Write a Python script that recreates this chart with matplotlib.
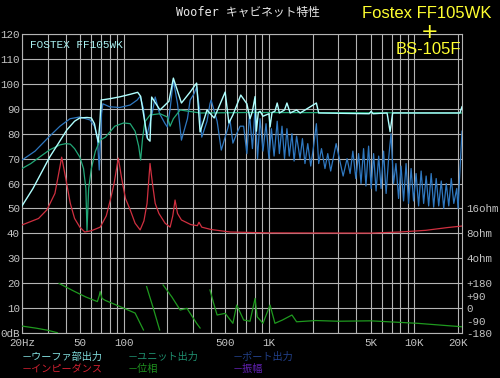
import matplotlib
matplotlib.use("Agg")
import matplotlib.pyplot as plt
from matplotlib.ticker import FixedLocator, LogLocator, NullFormatter
import numpy as np

# ---------------- data ----------------
freq_woofer = [20, 23.8, 27, 31, 35.5, 40.7, 46, 50, 56, 60, 63, 65.5, 67, 68.8, 70, 80, 94.5, 111, 125, 131,
               137, 146, 152, 156, 178, 205, 220, 250, 287, 318, 336, 375, 420, 500, 530, 565, 640, 705, 741, 770,
               803, 820, 845, 869, 910, 1000, 1018, 1050, 1100, 1140, 1180, 1280, 1330, 1400, 1550, 1640, 2120, 2200, 4900, 5050,
               5200, 6500, 6820, 7100, 20000, 20600, 21300]
db_woofer = [51, 58, 64, 70.6, 76, 81.5, 85, 86.3, 86.5, 86.3, 84, 79, 76.6, 85, 93.5, 94, 94.8, 95.8, 96.6, 95,
             88, 78, 77, 94.7, 89.5, 93, 102.3, 92.3, 96.7, 100.3, 80.7, 89.5, 86.3, 96.7, 84.3, 87.5, 95.5, 92, 86, 89,
             94.9, 81, 88.5, 89, 87, 88, 82.7, 88.5, 89, 92.3, 88.3, 89.5, 92.3, 88.3, 89.5, 88.3, 92.3, 88.3, 88, 89,
             88, 88.3, 80.8, 88.3, 88.3, 88.3, 90.8]

freq_unit = [20, 23, 27, 31, 36.5, 40, 43, 46, 50, 53, 55, 56, 57.5, 60, 64, 69, 75, 87, 100, 111,
             120, 127, 131, 135, 140, 152, 178, 200, 209, 220, 245, 336, 741, 21300]
db_unit = [66, 68, 71, 73.5, 75.5, 76, 75.8, 74, 70.6, 66, 58, 41, 58, 66, 73, 77.4, 78.6, 83, 84.3, 84,
           81, 75, 69.4, 78, 84.7, 87.5, 88, 86.7, 83, 86, 89.5, 88.3, 88.5, 88.3]

freq_port = [20, 24.6, 31, 36.5, 42.8, 50, 58.8, 63, 66, 68, 70.5, 72, 80, 94, 111, 124, 130, 137, 144, 157,
             165, 177, 193, 200, 209, 220, 235, 250, 275, 287, 305, 318, 336, 345, 375, 393, 400, 440, 470, 520,
             540, 565, 600, 633,
             670, 705, 735, 770, 803, 835, 869, 910, 955, 1000, 1040, 1085, 1140, 1180, 1230, 1280, 1330, 1380, 1440, 1490,
             1550, 1637, 1700, 1770, 1850, 1940, 2030, 2120, 2200, 2300, 2430, 2540, 2660, 2900, 3240, 3450, 3617, 3780, 3960, 4140,
             4300, 4480, 4650, 4850, 5050, 5250, 5460, 5690, 5910, 6150, 6400, 6660, 6920, 7200, 7480, 7800, 8110, 8440, 8780, 9140,
             9510, 9890, 10290, 10710, 11150, 11600, 12070, 12560, 13070, 13600, 14150, 14730, 15330, 15950, 16600, 17270, 17970, 18700, 19600, 20000,
             20650, 21300]
db_port = [69.4, 73, 79, 83, 86, 86.7, 85.5, 83, 78.6, 65.4, 88, 92, 90.8, 90.5, 91.5, 93.5, 95, 90, 78.6, 88,
           94.7, 88, 84, 82.7, 90, 101.5, 92, 77.4, 86, 93.5, 96, 98.7, 88, 78.6, 85, 92, 93.5, 85, 73.4, 82,
           85.5, 76.2, 80, 83,
           83, 72, 88, 74, 90, 70, 86, 73, 84, 70, 82, 71, 85, 72, 83, 70, 82, 71, 80, 69,
           79, 70, 78, 68, 76, 67, 75, 84, 68, 74, 66, 72, 65, 76, 63, 70, 64, 73, 62, 72,
           60, 74, 59, 75, 58, 72, 57, 71, 58, 73, 56, 70, 80, 60, 68, 54, 67, 53, 68, 52,
           66, 53, 64, 51, 65, 52, 63, 51, 64, 50.5, 62, 51, 61, 50, 60, 51, 62, 52, 58, 50,
           66, 81]

freq_imp = [20, 26, 29.7, 33.7, 35.5, 37.5, 40, 43, 46, 50, 54, 60, 69, 76, 81, 86, 92, 97, 103, 111,
            120, 130, 138, 145, 152, 158, 165, 175, 193, 209, 218, 226, 235, 250, 290, 322, 330, 345, 400, 540,
            1000, 5000, 8000, 12000, 17000, 21300]
ohm_imp = [10.1, 12.1, 15.4, 24.3, 39.4, 66.6, 36.8, 18.4, 12.1, 9.5, 8.3, 8.6, 9.5, 13, 20.2, 32, 64.9, 36.8, 21.1, 15.4,
           10.6, 8.8, 11.3, 18.4, 55.9, 32, 18.4, 13.9, 10.6, 9.5, 13, 20.2, 13.9, 11.6, 10.2, 9.9, 10.9, 9.5, 8.9, 8.3,
           8.1, 8.05, 8.3, 8.7, 9.4, 9.8]

freq_phase = [20, 25, 30, 35, 36, 45, 55, 66, 68, 69, 71, 75, 100, 120, 130, 137, 144, 160, 177, 187,
              215, 245, 273, 318, 336, 393, 415, 440, 500, 565, 600, 670, 741, 803, 830, 910, 1018, 1100, 1240, 1440,
              1550, 2100, 3000, 5000, 10500, 21300]
deg_phase = [-130, -145, -160, -178, 178, 125, 80, 47, 90, 119, 70, 55, 0, -36, -110, -158, 155, 0, -158, 167,
             80, -14, -2, -110, -144, 131, 40, -50, -38, -110, 22, -86, -95, 70, -63, -110, 22, -110, -86, -50,
             -99, -90, -95, -92, -110, -135]

x_ticks = [20, 50, 100, 500, 1000, 5000, 10000, 20000]
x_labels = ["20Hz", "50", "100", "500", "1K", "5K", "10K", "20K"]
y_ticks = [0, 10, 20, 30, 40, 50, 60, 70, 80, 90, 100, 110, 120]
y_labels = ["0dB", "10", "20", "30", "40", "50", "60", "70", "80", "90", "100", "110", "120"]
imp_ticks = [4, 8, 16]
imp_labels = ["4ohm", "8ohm", "16ohm"]
ph_ticks = [-180, -90, 0, 90, 180]
ph_labels = ["-180", "-90", "0", "+90", "+180"]

legend_rows = [[("－ウーファ部出力", "#80dcdc"), ("－ユニット出力", "#1f8f6f"), ("－ポート出力", "#22408a")],
               [("－インピーダンス", "#d02030"), ("－位相", "#1f901f"), ("－振幅", "#6020b0")]]

# ---------------- figure ----------------
W, H = 500, 378
fig = plt.figure(figsize=(5, 3.78), dpi=100, facecolor="black")
ax = fig.add_axes([22 / W, 1 - 333 / H, 440 / W, 299 / H])
ax.set_facecolor("black")
ax.set_xscale("log")
ax.set_xlim(20, 21300)
ax.set_ylim(0, 120)

GRID = "#b4b4b4"
LBL = "#c4c4c4"
mono = "Liberation Mono"
TS = 7.8

ax.xaxis.set_major_locator(FixedLocator(x_ticks))
ax.set_xticklabels(x_labels)
ax.xaxis.set_minor_locator(LogLocator(base=10, subs=np.arange(1, 10), numticks=20))
ax.xaxis.set_minor_formatter(NullFormatter())
ax.set_yticks(y_ticks)
ax.set_yticklabels(y_labels)
ax.grid(True, which="both", color=GRID, lw=0.8)
ax.set_axisbelow(True)
ax.tick_params(which="both", length=0, colors=LBL, labelsize=TS)
ax.tick_params(axis="x", pad=3.5)
ax.tick_params(axis="y", pad=1.5)
for t in ax.get_xticklabels() + ax.get_yticklabels():
    t.set_family(mono)
for s in ax.spines.values():
    s.set_color(GRID)
    s.set_linewidth(0.8)

# dB curves
ax.plot(freq_port, db_port, color="#2f78c0", lw=0.9, zorder=3)
ax.plot(freq_unit, db_unit, color="#22a878", lw=0.9, zorder=4)
ax.plot(freq_woofer, db_woofer, color="#b0ffff", lw=1.0, zorder=5)

# impedance axis (log2 ohm scale)
ax_imp = ax.twinx()
ax_imp.set_yscale("log", base=2)
ax_imp.set_ylim(0.5, 2048)
ax_imp.plot(freq_imp, ohm_imp, color="#d03040", lw=0.9)
ax_imp.yaxis.set_major_locator(FixedLocator(imp_ticks))
ax_imp.set_yticklabels(imp_labels)
ax_imp.yaxis.set_minor_locator(FixedLocator([]))

# phase axis
ax_ph = ax.twinx()
ax_ph.set_ylim(-180, -180 + 120 * 18)
fp = np.array(freq_phase, float)
dp = np.array(deg_phase, float)
breaks = np.where(np.abs(np.diff(dp)) > 180)[0] + 1
fp = np.insert(fp, breaks, np.nan)
dp = np.insert(dp, breaks, np.nan)
ax_ph.plot(fp, dp, color="#1f9a1f", lw=0.9)
ax_ph.set_yticks(ph_ticks)
ax_ph.set_yticklabels(ph_labels)

for a in (ax_imp, ax_ph):
    a.set_xlim(20, 21300)
    a.tick_params(which="both", length=0, colors=LBL, labelsize=TS, pad=3.0)
    for t in a.get_yticklabels():
        t.set_family(mono)
    for s in a.spines.values():
        s.set_visible(False)

def px(x, y):
    return x / W, 1 - y / H

cjk = ["DejaVu Sans Mono", "Noto Sans CJK JP"]
fig.text(*px(248, 12), "Woofer キャビネット特性", ha="center", va="center",
         color="#e8e8e8", fontsize=8.5, family=cjk)
fig.text(*px(427, 13), "Fostex FF105WK", ha="center", va="center",
         color="#ffff30", fontsize=12, family="Liberation Sans")
fig.text(*px(430, 32), "+", ha="center", va="center",
         color="#ffff30", fontsize=15, family="DejaVu Sans")
fig.text(*px(428, 49), "BS-105F", ha="center", va="center",
         color="#ffff30", fontsize=12, family="Liberation Sans", zorder=10)
fig.text(*px(30, 45.5), "FOSTEX FF105WK", ha="left", va="center",
         color="#a8f0f0", fontsize=8, family=mono)

col_x = [22, 128, 233]
row_y = [357, 369]
for r, row in enumerate(legend_rows):
    for c, (txt, colr) in enumerate(row):
        fig.text(*px(col_x[c], row_y[r]), txt, ha="left", va="center",
                 color=colr, fontsize=7.3, family=["Noto Sans CJK JP", "DejaVu Sans"])

fig.savefig("out.png", dpi=100, facecolor="black")
